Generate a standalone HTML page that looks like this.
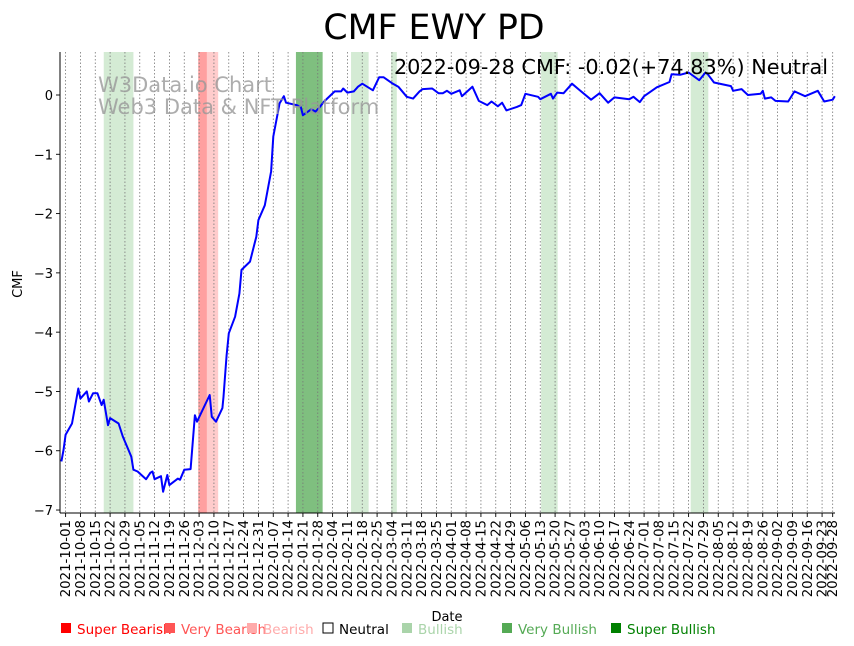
<!DOCTYPE html>
<html><head><meta charset="utf-8"><style>
body{margin:0;background:#fff;}
svg{display:block;font-family:"DejaVu Sans","Liberation Sans",sans-serif;}
</style></head><body>
<svg id="chart" width="854" height="646" viewBox="0 0 854 646" xmlns="http://www.w3.org/2000/svg">
<rect width="854" height="646" fill="#fff"/>
<text x="434" y="39" font-size="34.7" text-anchor="middle">CMF EWY PD</text>
<g id="bands"></g>
<g id="grid"></g>
<g id="yaxis"></g>
<g id="xaxis"></g>
<g id="series"></g>
<text x="98" y="92" font-size="21" fill="#999" fill-opacity="0.8">W3Data.io Chart</text>
<text x="98" y="114" font-size="21" fill="#999" fill-opacity="0.8">Web3 Data &amp; NFT Platform</text>
<text x="828" y="74" font-size="20.8" text-anchor="end">2022-09-28 CMF: -0.02(+74.83%) Neutral</text>
<text x="22" y="284" font-size="13" text-anchor="middle" transform="rotate(-90 22 284)">CMF</text>
<text x="447" y="621" font-size="13" text-anchor="middle">Date</text>
<g id="legend"></g>
</svg>
<script>
const dayOffsets=[-2,-1,0,3,6,7,10,11,13,15,17,18,20,21,25,27,31,32,34,38,40,41,42,45,46,48,49,53,54,56,59,61,62,68,69,71,74,74.5,76,77,80,82,83,87,90,91,94,97,98,101,103,104,109,111,112,116,118,120,122,127,130,131,133,136,138,140,145,148,150,154,157,161,164,167,168.5,173,176,178,180,182,186,187,192,195,199,201,204,206,208,213,215,217,223,224,229,230,232,235,239,242,248,252,256,259,266,268,271,273,279,285,286,290,294,299,302,303,306,314,315,319,322,328,329,330,333,335,341,344,349,355,358,362,363];
const cmfValues=[-6.18,-5.99,-5.73,-5.54,-4.95,-5.12,-5.0,-5.17,-5.03,-5.03,-5.23,-5.14,-5.57,-5.45,-5.54,-5.76,-6.1,-6.32,-6.35,-6.48,-6.37,-6.35,-6.48,-6.43,-6.69,-6.41,-6.58,-6.47,-6.49,-6.32,-6.31,-5.4,-5.51,-5.06,-5.43,-5.51,-5.28,-5.09,-4.39,-4.02,-3.74,-3.35,-2.95,-2.81,-2.39,-2.11,-1.86,-1.29,-0.7,-0.14,-0.02,-0.13,-0.17,-0.2,-0.34,-0.24,-0.28,-0.2,-0.11,0.06,0.06,0.11,0.04,0.06,0.14,0.19,0.08,0.3,0.3,0.2,0.14,-0.03,-0.06,0.06,0.1,0.11,0.03,0.03,0.07,0.02,0.08,-0.02,0.14,-0.1,-0.17,-0.11,-0.19,-0.13,-0.26,-0.2,-0.17,0.02,-0.03,-0.07,0.02,-0.06,0.04,0.03,0.19,0.1,-0.08,0.03,-0.13,-0.04,-0.07,-0.03,-0.12,-0.02,0.13,0.22,0.35,0.34,0.38,0.25,0.38,0.35,0.21,0.15,0.07,0.1,0.0,0.02,0.07,-0.06,-0.04,-0.1,-0.11,0.06,-0.02,0.07,-0.11,-0.08,-0.02];
const bandStarts=[18,62.6,66.7,108.7,134.7,153.6,224.4,295];
const bandEnds=[32,66.7,72,121.3,143,156.3,232.2,303.3];
const bandColors=["#d4ebd4","#ffa0a0","#ffcccc","#7fbf7f","#d4ebd4","#d4ebd4","#d4ebd4","#d4ebd4"];
const yTicks=[0,-1,-2,-3,-4,-5,-6,-7];
const xTickLabels=[];
(function(){const s=Date.UTC(2021,9,1);for(let i=0;i<52;i++){const d=new Date(s+i*7*864e5);xTickLabels.push(d.toISOString().slice(0,10));}xTickLabels.push("2022-09-28");})();

const NS="http://www.w3.org/2000/svg";
const L=60,R=835,T=52,B=513;
function xScale(day){return 65.6+day*2.119;}
function yScale(v){return 95-v*59.29;}
function dayOf(s){return (Date.parse(s+"T00:00:00Z")-Date.UTC(2021,9,1))/864e5;}
function mk(tag,attrs,parent){const e=document.createElementNS(NS,tag);for(const k in attrs)e.setAttribute(k,attrs[k]);parent.appendChild(e);return e;}

const bands=document.getElementById('bands');
bandStarts.forEach((s,i)=>{
  const r=mk('rect',{x:xScale(s),y:T,width:xScale(bandEnds[i])-xScale(s),height:B-T,fill:bandColors[i]},bands);
  
  
});
const grid=document.getElementById('grid'),xa=document.getElementById('xaxis');
xTickLabels.forEach(lbl=>{
  const x=xScale(dayOf(lbl));
  const g=mk('line',{x1:x,x2:x,y1:T,y2:B,stroke:'#777','stroke-width':0.8,'stroke-dasharray':'1.5,2'},grid);
  
  
  mk('line',{x1:x,x2:x,y1:B,y2:B+4,stroke:'#000','stroke-width':0.9},xa);
  const t=mk('text',{x:0,y:0,'font-size':13.3,'text-anchor':'end',transform:`translate(${x+4.5},${B+7}) rotate(-90)`},xa);
  t.textContent=lbl;
  
  
});
mk('line',{x1:L,x2:R,y1:B,y2:B,stroke:'#000','stroke-width':1},xa);
const ya=document.getElementById('yaxis');
mk('line',{x1:L,x2:L,y1:T,y2:B,stroke:'#000','stroke-width':1},ya);
yTicks.forEach(v=>{
  const y=yScale(v);
  mk('line',{x1:L-4,x2:L,y1:y,y2:y,stroke:'#000','stroke-width':0.9},ya);
  const t=mk('text',{x:L-7,y:y+5,'font-size':13,'text-anchor':'end'},ya);
  t.textContent=v===0?'0':'\u2212'+Math.abs(v);
  
  
});
const pts=dayOffsets.map((d,i)=>xScale(d).toFixed(1)+','+yScale(cmfValues[i]).toFixed(1)).join(' ');
const line=mk('polyline',{points:pts,fill:'none',stroke:'#0000ff','stroke-width':2,'stroke-linejoin':'round'},document.getElementById('series'));



const legendLabels=["Super Bearish","Very Bearish","Bearish","Neutral","Bullish","Very Bullish","Super Bullish"];
const legendColors=["#ff0000","#ff5555","#ffaaaa","#fff","#aad4aa","#55aa55","#008000"];
const legendText=["#ff0000","#ff5555","#ffaaaa","#000","#aad4aa","#55aa55","#008000"];
const legendX=[61,165,247,323,402,502,611];
const lg=document.getElementById('legend');
legendLabels.forEach((lb,i)=>{
  const r=mk('rect',{x:legendX[i],y:623,width:10,height:10,fill:legendColors[i],stroke:i===3?'#000':'none','stroke-width':1},lg);
  
  
  const t=mk('text',{x:legendX[i]+16,y:634,'font-size':13.5,fill:legendText[i]},lg);
  t.textContent=lb;
  
  
});
</script>
</body></html>
